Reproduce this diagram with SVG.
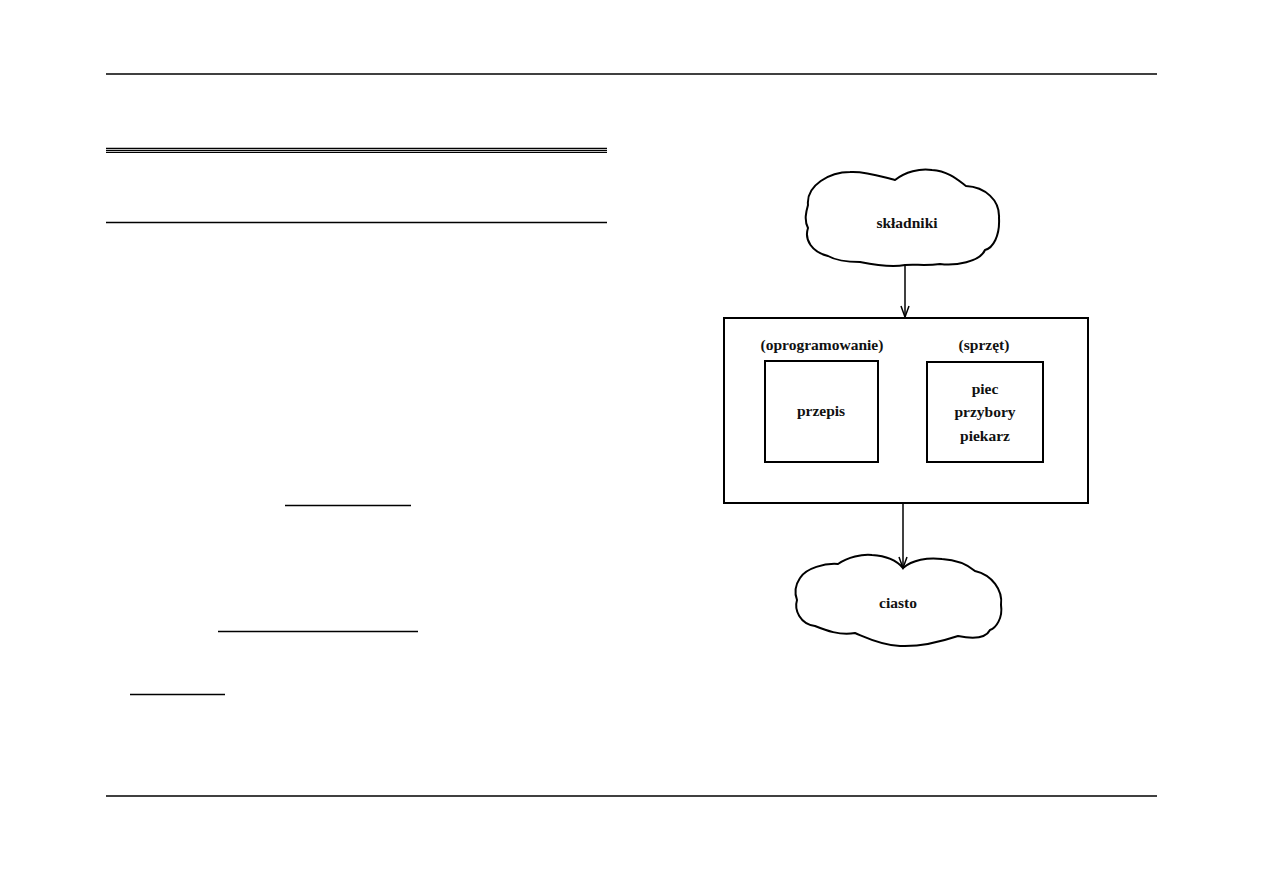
<svg xmlns="http://www.w3.org/2000/svg" width="1263" height="893" viewBox="0 0 1263 893">
<defs>
<style>
.rule{stroke:#000;stroke-width:1.3;fill:none}
.shape{stroke:#000;stroke-width:2;fill:#fff}
.conn{stroke:#000;stroke-width:1.5;fill:none}
.lbl{font-family:"Liberation Serif","DejaVu Serif",serif;font-size:15.5px;font-weight:bold;fill:#111;text-anchor:middle}
</style>
<marker id="arr" markerWidth="14" markerHeight="12" refX="12" refY="5" orient="auto" markerUnits="userSpaceOnUse">
<path d="M1,1 L12,5 L1,9" fill="none" stroke="#000" stroke-width="1.5"/>
</marker>
</defs>
<rect width="1263" height="893" fill="#fff"/>
<g id="page-rules">
<line class="rule" x1="106" y1="74" x2="1157" y2="74"/>
<line class="rule" x1="106" y1="796" x2="1157" y2="796"/>
<line class="rule" x1="106" y1="148.3" x2="607" y2="148.3"/>
<line class="rule" x1="106" y1="150.3" x2="607" y2="150.3"/>
<line class="rule" x1="106" y1="152.3" x2="607" y2="152.3"/>
<line class="rule" x1="106" y1="222.5" x2="607" y2="222.5"/>
<line class="rule" x1="285" y1="505.5" x2="411" y2="505.5"/>
<line class="rule" x1="218" y1="631.5" x2="418" y2="631.5"/>
<line class="rule" x1="130" y1="694.5" x2="225" y2="694.5"/>
</g>
<g id="skladniki">
<path class="shape" d="M808,205 C806,185 830,172 850,172 C868,171 885,178 895,180 C905,172 920,168 932,170 C948,171 958,180 966,186 C985,187 1000,200 999,218 C1000,236 993,248 985,250 C980,262 955,266 940,264 C925,266 915,264 905,265 C890,268 870,264 860,262 C845,262 835,260 828,256 C812,252 804,240 808,228 C804,220 806,212 808,205 Z"/>
<text class="lbl" x="907" y="228">składniki</text>
</g>
<g id="system">
<rect class="shape" x="724" y="318" width="364" height="185"/>
<text class="lbl" x="822" y="350">(oprogramowanie)</text>
<text class="lbl" x="984" y="350">(sprzęt)</text>
</g>
<g id="przepis">
<rect class="shape" x="765" y="361" width="113" height="101"/>
<text class="lbl" x="821" y="416">przepis</text>
</g>
<g id="sprzet">
<rect class="shape" x="927" y="362" width="116" height="100"/>
<text class="lbl" x="985" y="394">piec</text>
<text class="lbl" x="985" y="417">przybory</text>
<text class="lbl" x="985" y="441">piekarz</text>
</g>
<g id="ciasto">
<path class="shape" d="M800,578 C806,568 825,563 838,564 C848,557 862,554 872,555 C888,556 898,562 903,568 C912,560 928,557 942,559 C958,560 968,565 975,571 C992,575 1003,590 1001,605 C1003,618 996,628 990,630 C985,640 968,638 958,636 C940,642 920,647 900,646 C880,645 865,637 855,633 C840,636 825,630 815,626 C800,624 794,610 797,600 C794,592 796,584 800,578 Z"/>
<text class="lbl" x="898" y="608">ciasto</text>
</g>
<g id="connectors">
<line class="conn" x1="905" y1="265" x2="905" y2="317" marker-end="url(#arr)"/>
<line class="conn" x1="903" y1="504" x2="903" y2="568" marker-end="url(#arr)"/>
</g>
</svg>
